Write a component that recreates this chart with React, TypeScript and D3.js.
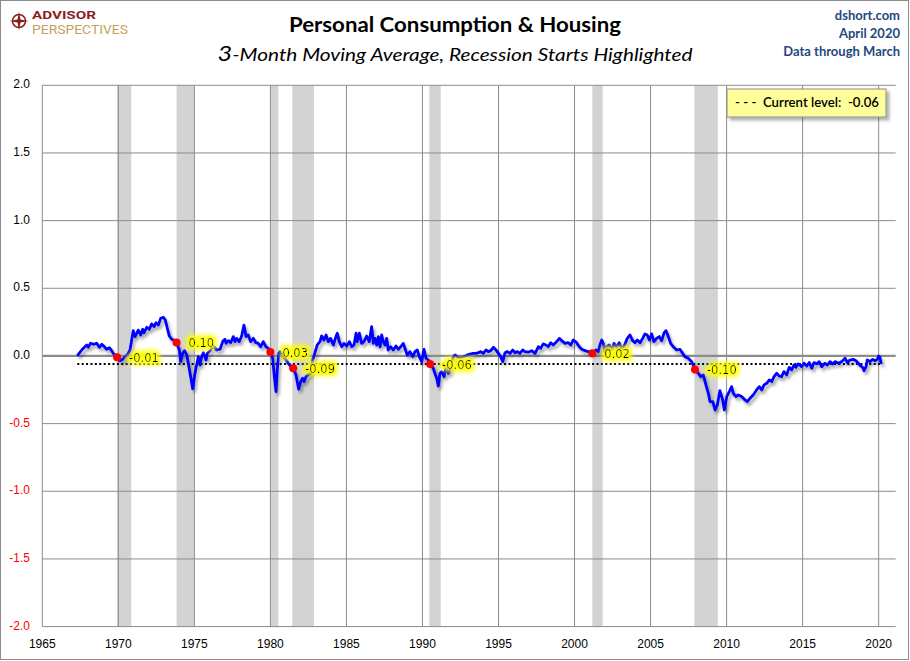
import { useEffect, useRef } from 'react'
import * as d3 from 'd3'

const WIDTH = 910
const HEIGHT = 661

// 3-month moving average as [year, value]
const series: [number, number][] = [
  [1967.3, 0.0], [1967.59, 0.044], [1967.92, 0.081], [1968.02, 0.064], [1968.18, 0.094],
  [1968.4, 0.086], [1968.58, 0.094], [1968.75, 0.064], [1968.91, 0.086], [1969.08, 0.069],
  [1969.23, 0.049], [1969.41, 0.061], [1969.56, 0.039], [1969.67, 0.019], [1969.92, -0.01],
  [1970.11, -0.035], [1970.29, -0.025], [1970.44, -0.005], [1970.59, 0.007], [1970.77, 0.044],
  [1970.98, 0.187], [1971.1, 0.143], [1971.21, 0.167], [1971.31, 0.191], [1971.47, 0.155],
  [1971.6, 0.197], [1971.69, 0.172], [1971.87, 0.212], [1972.04, 0.197], [1972.19, 0.237],
  [1972.35, 0.217], [1972.48, 0.246], [1972.63, 0.229], [1972.79, 0.279], [1972.96, 0.286],
  [1973.09, 0.266], [1973.22, 0.205], [1973.35, 0.148], [1973.51, 0.123], [1973.66, 0.118],
  [1973.83, 0.1], [1974.01, 0.044], [1974.1, -0.042], [1974.23, 0.019], [1974.36, 0.039],
  [1974.5, 0.007], [1974.6, -0.054], [1974.76, -0.153], [1974.89, -0.242], [1975.04, -0.129],
  [1975.15, -0.067], [1975.26, -0.005], [1975.37, -0.067], [1975.48, -0.005], [1975.59, 0.024],
  [1975.77, -0.03], [1975.85, 0.019], [1976.03, 0.039], [1976.24, 0.074], [1976.47, 0.044],
  [1976.69, 0.05], [1976.88, 0.11], [1977.01, 0.123], [1977.08, 0.094], [1977.23, 0.113],
  [1977.39, 0.098], [1977.56, 0.143], [1977.67, 0.106], [1977.78, 0.13], [1977.95, 0.106],
  [1978.11, 0.147], [1978.26, 0.228], [1978.4, 0.143], [1978.55, 0.155], [1978.7, 0.106],
  [1978.88, 0.13], [1979.05, 0.098], [1979.2, 0.093], [1979.36, 0.068], [1979.53, 0.106],
  [1979.71, 0.068], [1979.86, 0.056], [1980.0, 0.03], [1980.15, -0.017], [1980.26, -0.153],
  [1980.37, -0.264], [1980.45, -0.103], [1980.55, 0.019], [1980.63, 0.032], [1980.78, 0.007],
  [1980.96, -0.017], [1981.18, -0.055], [1981.4, -0.085], [1981.5, -0.09], [1981.68, -0.14],
  [1981.86, -0.246], [1981.99, -0.19], [1982.12, -0.165], [1982.21, -0.19], [1982.34, -0.153],
  [1982.49, -0.14], [1982.65, -0.128], [1982.78, -0.03], [1982.93, 0.024], [1983.08, 0.081],
  [1983.26, 0.106], [1983.37, 0.148], [1983.52, 0.118], [1983.66, 0.155], [1983.81, 0.106],
  [1983.96, 0.13], [1984.14, 0.081], [1984.31, 0.143], [1984.4, 0.168], [1984.53, 0.106],
  [1984.69, 0.068], [1984.84, 0.093], [1985.02, 0.074], [1985.19, 0.106], [1985.35, 0.068],
  [1985.5, 0.081], [1985.63, 0.168], [1985.71, 0.106], [1985.85, 0.168], [1986.0, 0.093],
  [1986.15, 0.106], [1986.33, 0.147], [1986.5, 0.106], [1986.66, 0.217], [1986.77, 0.093],
  [1986.88, 0.13], [1986.99, 0.081], [1987.1, 0.143], [1987.21, 0.068], [1987.32, 0.155],
  [1987.42, 0.106], [1987.54, 0.081], [1987.65, 0.13], [1987.75, 0.044], [1987.91, 0.068],
  [1988.08, 0.044], [1988.26, 0.074], [1988.41, 0.049], [1988.57, 0.068], [1988.74, 0.093],
  [1988.85, 0.056], [1989.0, 0.007], [1989.18, 0.032], [1989.36, -0.005], [1989.51, 0.032],
  [1989.66, 0.044], [1989.79, -0.005], [1989.95, -0.042], [1990.1, 0.049], [1990.23, -0.017],
  [1990.38, -0.03], [1990.5, -0.06], [1990.71, -0.091], [1990.82, -0.129], [1990.94, -0.165],
  [1991.04, -0.222], [1991.15, -0.129], [1991.26, -0.116], [1991.42, -0.153], [1991.55, -0.079],
  [1991.7, -0.129], [1991.81, -0.103], [1991.92, -0.054], [1992.03, -0.005], [1992.14, 0.007],
  [1992.29, -0.005], [1992.55, -0.01], [1992.8, 0.0], [1993.05, 0.012], [1993.34, 0.019],
  [1993.52, 0.019], [1993.67, 0.024], [1993.83, 0.032], [1994.0, 0.019], [1994.18, 0.044],
  [1994.33, 0.032], [1994.49, 0.039], [1994.66, 0.064], [1994.84, 0.044], [1994.99, 0.019],
  [1995.14, -0.005], [1995.28, -0.042], [1995.43, 0.024], [1995.58, 0.032], [1995.76, 0.019],
  [1995.93, 0.044], [1996.08, 0.024], [1996.24, 0.032], [1996.41, 0.019], [1996.59, 0.044],
  [1996.74, 0.032], [1996.96, 0.028], [1997.18, 0.039], [1997.4, 0.019], [1997.62, 0.068],
  [1997.77, 0.056], [1997.94, 0.089], [1998.12, 0.081], [1998.27, 0.068], [1998.43, 0.098],
  [1998.6, 0.081], [1998.83, 0.106], [1999.0, 0.13], [1999.16, 0.113], [1999.37, 0.093],
  [1999.59, 0.098], [1999.75, 0.081], [1999.92, 0.118], [2000.14, 0.098], [2000.31, 0.068],
  [2000.47, 0.049], [2000.69, 0.039], [2000.9, 0.032], [2001.17, 0.02], [2001.41, 0.044],
  [2001.56, 0.032], [2001.67, 0.081], [2001.79, 0.118], [2001.89, 0.093], [2002.0, 0.032],
  [2002.11, 0.068], [2002.29, 0.081], [2002.44, 0.044], [2002.59, 0.093], [2002.77, 0.068],
  [2002.94, 0.098], [2003.1, 0.049], [2003.32, 0.089], [2003.47, 0.13], [2003.65, 0.155],
  [2003.82, 0.113], [2003.98, 0.098], [2004.13, 0.118], [2004.31, 0.098], [2004.48, 0.13],
  [2004.63, 0.163], [2004.78, 0.155], [2004.92, 0.118], [2005.07, 0.163], [2005.22, 0.106],
  [2005.4, 0.13], [2005.57, 0.143], [2005.73, 0.113], [2005.88, 0.168], [2006.01, 0.187],
  [2006.17, 0.143], [2006.32, 0.093], [2006.49, 0.068], [2006.72, 0.044], [2006.93, 0.049],
  [2007.11, 0.019], [2007.26, -0.005], [2007.48, -0.017], [2007.7, -0.042], [2007.81, -0.067],
  [2007.92, -0.1], [2008.14, -0.128], [2008.3, -0.153], [2008.47, -0.14], [2008.64, -0.214],
  [2008.8, -0.276], [2008.91, -0.338], [2009.09, -0.338], [2009.24, -0.399], [2009.39, -0.362],
  [2009.56, -0.256], [2009.74, -0.325], [2009.85, -0.399], [2010.01, -0.3], [2010.18, -0.264],
  [2010.33, -0.227], [2010.44, -0.276], [2010.62, -0.3], [2010.77, -0.288], [2010.99, -0.3],
  [2011.21, -0.325], [2011.36, -0.338], [2011.54, -0.313], [2011.75, -0.288], [2011.97, -0.251],
  [2012.15, -0.227], [2012.31, -0.251], [2012.46, -0.214], [2012.64, -0.202], [2012.81, -0.177],
  [2012.97, -0.19], [2013.12, -0.153], [2013.29, -0.128], [2013.46, -0.148], [2013.62, -0.153],
  [2013.77, -0.116], [2013.95, -0.14], [2014.12, -0.084], [2014.28, -0.103], [2014.43, -0.067],
  [2014.56, -0.084], [2014.71, -0.059], [2014.94, -0.079], [2015.09, -0.054], [2015.27, -0.074],
  [2015.44, -0.049], [2015.6, -0.091], [2015.75, -0.049], [2015.93, -0.059], [2016.09, -0.042],
  [2016.25, -0.079], [2016.47, -0.054], [2016.62, -0.067], [2016.8, -0.042], [2016.98, -0.059],
  [2017.13, -0.042], [2017.35, -0.054], [2017.57, -0.042], [2017.79, -0.017], [2017.94, -0.049],
  [2018.11, -0.03], [2018.33, -0.025], [2018.51, -0.035], [2018.66, -0.054], [2018.82, -0.074],
  [2018.95, -0.084], [2019.04, -0.109], [2019.17, -0.079], [2019.25, -0.03], [2019.43, -0.042],
  [2019.61, -0.025], [2019.76, -0.035], [2019.91, -0.025], [2020.0, 0.0], [2020.08, -0.01],
  [2020.17, -0.06],
]

// recession bands [start, end]
const recessions: [number, number][] = [
  [1969.92, 1970.85], [1973.83, 1974.97], [1980.02, 1980.52], [1981.44, 1982.87],
  [1990.45, 1991.2], [2001.17, 2001.85], [2007.88, 2009.42],
]

// value at each recession start
const recessionStarts: [number, number][] = [
  [1969.92, -0.01], [1973.83, 0.1], [1980.0, 0.03], [1981.5, -0.09],
  [1990.5, -0.06], [2001.17, 0.02], [2007.92, -0.1],
]

const currentLevel = -0.06
const yTicks = [2.0, 1.5, 1.0, 0.5, 0.0, -0.5, -1.0, -1.5, -2.0]
const xTicks = [1965, 1970, 1975, 1980, 1985, 1990, 1995, 2000, 2005, 2010, 2015, 2020]
const infoLines = ['dshort.com', 'April 2020', 'Data through March']

export default function App() {
  const svgRef = useRef<SVGSVGElement>(null)

  useEffect(() => {
    if (!svgRef.current) return
    const svg = d3.select(svgRef.current)
    svg.selectAll('*').remove()

    const plot = { left: 42.3, right: 895.7, top: 85.3, bottom: 626.6 }
    const grid = '#8c8c8c'

    const x = d3.scaleLinear().domain([1965, 2021.12]).range([plot.left, plot.right])
    const y = d3.scaleLinear().domain([-2, 2]).range([plot.bottom, plot.top])

    // Filters
    const defs = svg.append('defs')
    const shadow = defs.append('filter').attr('id', 'line-shadow')
      .attr('x', '-5%').attr('y', '-20%').attr('width', '110%').attr('height', '140%')
    shadow.append('feDropShadow').attr('dx', 2).attr('dy', 3).attr('stdDeviation', 1.4)
      .attr('flood-color', '#000').attr('flood-opacity', 0.35)

    const boxShadow = defs.append('filter').attr('id', 'box-shadow')
      .attr('x', '-10%').attr('y', '-30%').attr('width', '130%').attr('height', '180%')
    boxShadow.append('feDropShadow').attr('dx', 3).attr('dy', 3).attr('stdDeviation', 1.5)
      .attr('flood-color', '#000').attr('flood-opacity', 0.3)

    // soft yellow halo behind the recession-start labels
    const glow = defs.append('filter').attr('id', 'glow')
      .attr('x', '-40%').attr('y', '-80%').attr('width', '180%').attr('height', '260%')
    glow.append('feMorphology').attr('in', 'SourceAlpha').attr('operator', 'dilate')
      .attr('radius', 2.6).attr('result', 'grown')
    glow.append('feGaussianBlur').attr('in', 'grown').attr('stdDeviation', 2).attr('result', 'blur')
    glow.append('feFlood').attr('flood-color', '#ffff00').attr('flood-opacity', 1)
    glow.append('feComposite').attr('in2', 'blur').attr('operator', 'in').attr('result', 'halo')
    const merge = glow.append('feMerge')
    merge.append('feMergeNode').attr('in', 'halo')
    merge.append('feMergeNode').attr('in', 'SourceGraphic')

    // Background and outer border
    svg.append('rect').attr('x', 0.5).attr('y', 0.5).attr('width', WIDTH - 2).attr('height', HEIGHT - 2)
      .attr('fill', '#fff').attr('stroke', grid)

    // Recession bands
    svg.append('g').selectAll('rect').data(recessions).join('rect')
      .attr('x', (d) => x(d[0]))
      .attr('width', (d) => x(d[1]) - x(d[0]))
      .attr('y', plot.top)
      .attr('height', plot.bottom - plot.top)
      .attr('fill', '#d3d3d3')

    // Gridlines
    svg.append('g').selectAll('line').data(yTicks.filter((t) => t !== 0 && t !== -2)).join('line')
      .attr('x1', plot.left).attr('x2', plot.right)
      .attr('y1', (d) => y(d)).attr('y2', (d) => y(d))
      .attr('stroke', grid).attr('stroke-width', 1)

    svg.append('g').selectAll('line').data(xTicks.slice(1)).join('line')
      .attr('x1', (d) => x(d)).attr('x2', (d) => x(d))
      .attr('y1', plot.top).attr('y2', plot.bottom)
      .attr('stroke', grid).attr('stroke-width', 1)

    // Axes lines
    svg.append('line').attr('x1', plot.left).attr('x2', plot.left)
      .attr('y1', plot.top).attr('y2', plot.bottom).attr('stroke', grid)
    svg.append('line').attr('x1', plot.left).attr('x2', plot.right)
      .attr('y1', plot.bottom).attr('y2', plot.bottom).attr('stroke', grid)

    // Zero line
    svg.append('line').attr('x1', plot.left).attr('x2', plot.right)
      .attr('y1', y(0)).attr('y2', y(0)).attr('stroke', grid).attr('stroke-width', 2.2)

    // Current level dotted line
    svg.append('line')
      .attr('x1', x(series[0][0])).attr('x2', x(series[series.length - 1][0]))
      .attr('y1', y(currentLevel)).attr('y2', y(currentLevel))
      .attr('stroke', '#000').attr('stroke-width', 2).attr('stroke-dasharray', '2 2.4')

    // Series line
    const line = d3.line<[number, number]>().x((d) => x(d[0])).y((d) => y(d[1]))
    svg.append('path').datum(series)
      .attr('fill', 'none').attr('stroke', '#0000ff').attr('stroke-width', 2.8)
      .attr('stroke-linejoin', 'round')
      .attr('filter', 'url(#line-shadow)')
      .attr('d', line)

    // Recession-start markers and labels
    svg.append('g').selectAll('circle').data(recessionStarts).join('circle')
      .attr('cx', (d) => x(d[0])).attr('cy', (d) => y(d[1])).attr('r', 4)
      .attr('fill', '#ff0000')

    svg.append('g').selectAll('text').data(recessionStarts).join('text')
      .attr('x', (d) => x(d[0]) + 12).attr('y', (d) => y(d[1]) + 1.5)
      .attr('dominant-baseline', 'middle')
      .attr('font-family', '"DejaVu Sans", Verdana, sans-serif').attr('font-size', 11.5)
      .attr('fill', '#000')
      .attr('filter', 'url(#glow)')
      .text((d) => d[1].toFixed(2))

    // Y tick labels
    svg.append('g').selectAll('text').data(yTicks).join('text')
      .attr('x', 30).attr('y', (d) => y(d))
      .attr('text-anchor', 'end').attr('dominant-baseline', 'middle')
      .attr('font-family', '"Liberation Sans", Arial, sans-serif').attr('font-size', 12)
      .attr('fill', (d) => (d < 0 ? '#ff0000' : '#000'))
      .text((d) => d.toFixed(1))

    // X tick labels
    svg.append('g').selectAll('text').data(xTicks).join('text')
      .attr('x', (d) => x(d)).attr('y', 645)
      .attr('text-anchor', 'middle').attr('dominant-baseline', 'middle')
      .attr('font-family', '"Liberation Sans", Arial, sans-serif').attr('font-size', 12)
      .attr('fill', '#000')
      .text((d) => String(d))

    // Legend box
    svg.append('rect').attr('x', 727).attr('y', 89).attr('width', 159).attr('height', 28)
      .attr('fill', '#ffff99').attr('stroke', '#8c8c8c').attr('filter', 'url(#box-shadow)')
    svg.append('text').attr('x', 735).attr('y', 103.5)
      .attr('dominant-baseline', 'middle')
      .attr('font-family', 'Lato, sans-serif').attr('font-size', 13).attr('font-weight', 600)
      .attr('textLength', 144).attr('lengthAdjust', 'spacingAndGlyphs')
      .style('white-space', 'pre')
      .text(`- - -  Current level:  ${currentLevel.toFixed(2)}`)

    // Titles
    svg.append('text').attr('x', 455).attr('y', 32).attr('text-anchor', 'middle')
      .attr('font-family', 'Lato, sans-serif').attr('font-size', 21).attr('font-weight', 700)
      .attr('textLength', 332).attr('lengthAdjust', 'spacingAndGlyphs')
      .attr('fill', '#000')
      .text('Personal Consumption & Housing')

    const sub = svg.append('text').attr('x', 455).attr('y', 61).attr('text-anchor', 'middle')
      .attr('font-family', 'Lato, sans-serif').attr('font-style', 'italic').attr('fill', '#000')
      .attr('textLength', 475).attr('lengthAdjust', 'spacingAndGlyphs')
    sub.append('tspan').attr('font-size', 22).text('3')
    sub.append('tspan').attr('font-size', 18).text('-Month Moving Average, Recession Starts Highlighted')

    // Info lines top right
    svg.append('g').selectAll('text').data(infoLines).join('text')
      .attr('x', 900).attr('y', (_, i) => 20 + i * 18)
      .attr('text-anchor', 'end')
      .attr('font-family', 'Lato, sans-serif').attr('font-size', 13).attr('font-weight', 700)
      .attr('fill', '#1f497d')
      .text((d) => d)

    // Logo
    const logo = svg.append('g')
    logo.append('circle').attr('cx', 19).attr('cy', 21).attr('r', 6.5)
      .attr('fill', 'none').attr('stroke', '#8b1f1f').attr('stroke-width', 1.5)
    const star = [[19, 11.5], [20.5, 19.5], [28.5, 21], [20.5, 22.5], [19, 30.5], [17.5, 22.5], [9.5, 21], [17.5, 19.5]]
    logo.append('polygon').attr('points', star.map((p) => p.join(',')).join(' ')).attr('fill', '#8b1f1f')
    logo.append('text').attr('x', 32).attr('y', 19)
      .attr('font-family', 'Roboto, sans-serif').attr('font-size', 11.5).attr('font-weight', 700)
      .attr('textLength', 64).attr('lengthAdjust', 'spacingAndGlyphs')
      .attr('fill', '#8b1f1f').text('ADVISOR')
    logo.append('text').attr('x', 32).attr('y', 33.5)
      .attr('font-family', 'Roboto, sans-serif').attr('font-size', 12.5).attr('font-weight', 400)
      .attr('textLength', 96).attr('lengthAdjust', 'spacingAndGlyphs')
      .attr('fill', '#c6a15b').text('PERSPECTIVES')
  }, [])

  return (
    <div style={{ position: 'absolute', left: 0, top: 0 }}>
      <svg ref={svgRef} width={WIDTH} height={HEIGHT} style={{ display: 'block' }} />
    </div>
  )
}
